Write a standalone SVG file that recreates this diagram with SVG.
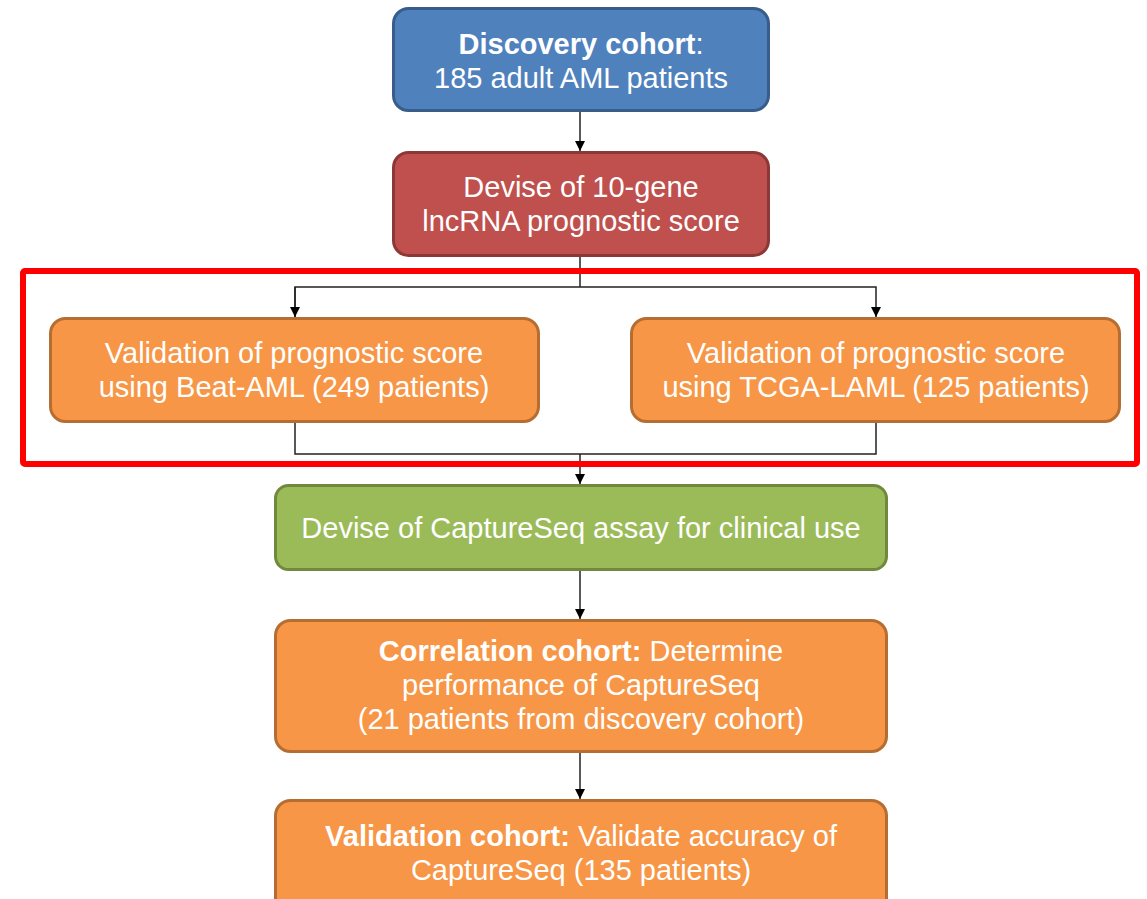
<svg xmlns="http://www.w3.org/2000/svg" width="1147" height="899" viewBox="0 0 1147 899">
<defs>
<style>
.t{font-family:"Liberation Sans",Arial,sans-serif;font-size:29px;fill:#fff;text-anchor:middle}
.b{font-weight:bold}
.blue{fill:#4F81BD;stroke:#385D8A;stroke-width:3}
.red{fill:#C0504D;stroke:#8C3836;stroke-width:3}
.orange{fill:#F79646;stroke:#B66D31;stroke-width:3}
.green{fill:#9BBB59;stroke:#71893F;stroke-width:3}
.c{fill:none;stroke:#222;stroke-width:1.5}
</style>
<marker id="ah" viewBox="0 0 10 10" refX="10" refY="5" markerWidth="10" markerHeight="10" markerUnits="userSpaceOnUse" orient="auto">
<path d="M0,0 L10,5 L0,10 z" fill="#000"/>
</marker>
</defs>
<rect width="1147" height="899" fill="#fff"/>
<g id="connectors">
<path class="c" d="M580,111 V151" marker-end="url(#ah)"/>
<path class="c" d="M580,256 V287"/>
<path class="c" d="M295,317 V287 H876 V317" marker-end="url(#ah)"/>
<path class="c" d="M295,287 V317" marker-end="url(#ah)"/>
<path class="c" d="M295,422 V454 H876 V422"/>
<path class="c" d="M580,454 V484" marker-end="url(#ah)"/>
<path class="c" d="M580,570 V619" marker-end="url(#ah)"/>
<path class="c" d="M580,752 V799" marker-end="url(#ah)"/>
</g>
<g id="highlight">
<rect x="23" y="271" width="1114" height="193" fill="none" stroke="#FF0000" stroke-width="6" rx="2"/>
</g>
<g id="discovery">
<rect class="blue" x="393.500" y="8.500" width="375" height="102" rx="15"/>
<text class="t" x="581" y="54"><tspan class="b">Discovery cohort</tspan>:</text>
<text class="t" x="581" y="88">185 adult AML patients</text>
</g>
<g id="devise-score">
<rect class="red" x="393.500" y="152.500" width="375" height="103" rx="15"/>
<text class="t" x="581" y="197">Devise of 10-gene</text>
<text class="t" x="581" y="231">lncRNA prognostic score</text>
</g>
<g id="beat-aml">
<rect class="orange" x="50.500" y="318.500" width="488" height="103" rx="15"/>
<text class="t" x="294" y="363">Validation of prognostic score</text>
<text class="t" x="294" y="397">using Beat-AML (249 patients)</text>
</g>
<g id="tcga-laml">
<rect class="orange" x="631.500" y="318.500" width="488" height="103" rx="15"/>
<text class="t" x="876" y="363">Validation of prognostic score</text>
<text class="t" x="876" y="397">using TCGA-LAML (125 patients)</text>
</g>
<g id="captureseq">
<rect class="green" x="275.500" y="485.500" width="611" height="84" rx="13"/>
<text class="t" x="581" y="538">Devise of CaptureSeq assay for clinical use</text>
</g>
<g id="correlation">
<rect class="orange" x="275.500" y="620.500" width="611" height="131" rx="15"/>
<text class="t" x="581" y="661"><tspan class="b">Correlation cohort:</tspan> Determine</text>
<text class="t" x="581" y="695">performance of CaptureSeq</text>
<text class="t" x="581" y="729">(21 patients from discovery cohort)</text>
</g>
<g id="validation">
<rect class="orange" x="275.500" y="800.500" width="611" height="120" rx="15"/>
<text class="t" x="581" y="846"><tspan class="b">Validation cohort:</tspan> Validate accuracy of</text>
<text class="t" x="581" y="880">CaptureSeq (135 patients)</text>
</g>
</svg>
